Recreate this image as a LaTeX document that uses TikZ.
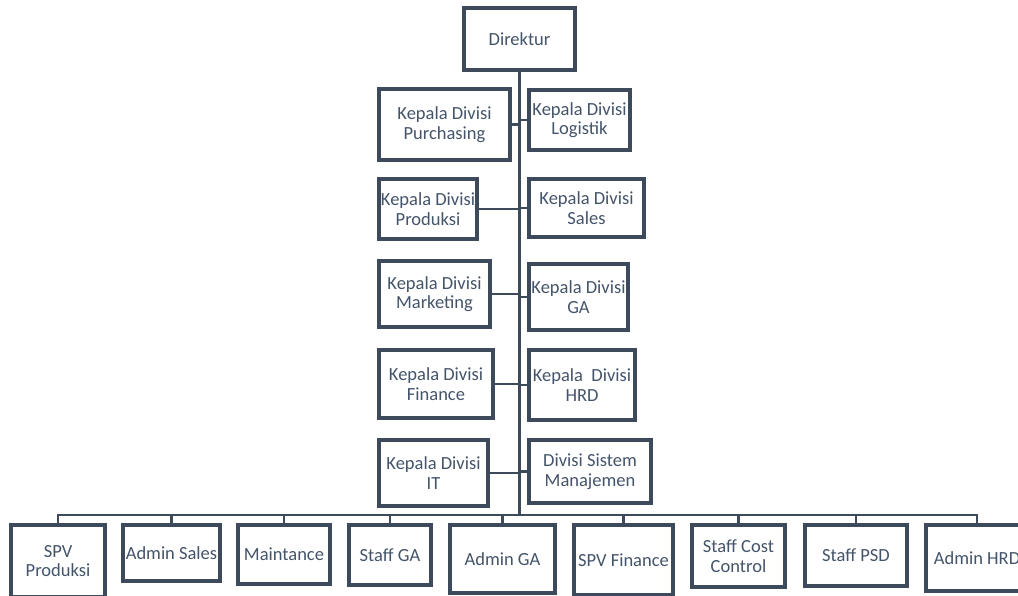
\documentclass[tikz,border=0pt]{standalone}
\usepackage{fontspec}
\setmainfont{Carlito}
\definecolor{linec}{HTML}{3D4A5C}
\definecolor{textc}{HTML}{44546A}
\tikzset{
  box/.style={draw=linec, line width=3.6pt, fill=white, text=textc, align=center,
    inner sep=0pt, font=\fontsize{18.5}{19.5}\selectfont},
  conn/.style={draw=linec, line width=2.6pt},
}
\begin{document}
\begin{tikzpicture}[x=1pt,y=-1pt]
\useasboundingbox[fill=white] (0,0) rectangle (1018,595);
% connectors first
\coordinate (j) at (519.5,515);
% boxes
\newcommand{\bx}[6]{\node[box, minimum width=#4pt-3.6pt, minimum height=#5pt-3.6pt] (#1) at (#2,#3) {#6};}
\bx{dir}{519.5}{39}{115}{66}{Direktur}
\bx{pur}{444.5}{124.5}{135}{75}{Kepala Divisi\\Purchasing}
\bx{log}{579.5}{120}{105}{64}{Kepala Divisi\\Logistik}
\bx{prod}{428}{209}{102}{64}{Kepala Divisi\\Produksi}
\bx{sales}{586.5}{208}{119}{62}{Kepala Divisi\\Sales}
\bx{mkt}{434.5}{294}{115}{70}{Kepala Divisi\\Marketing}
\bx{ga}{578.5}{297}{103}{70}{Kepala Divisi\\GA}
\bx{fin}{436}{384}{118}{72}{Kepala Divisi\\Finance}
\bx{hrd}{582}{385}{110}{74}{Kepala~ Divisi\\HRD}
\bx{it}{433.5}{473}{113}{70}{Kepala Divisi\\IT}
\bx{sm}{590}{471.5}{126}{67}{Divisi Sistem\\Manajemen}
\bx{spvp}{58}{561}{98}{76}{SPV\\Produksi}
\bx{adms}{171.5}{553}{101}{60}{Admin Sales}
\bx{maint}{284}{554.5}{96}{63}{Maintance}
\bx{sga}{390}{555}{86}{64}{Staff GA}
\bx{adga}{502.5}{559}{109}{72}{Admin GA}
\bx{spvf}{623.5}{560}{103}{74}{SPV Finance}
\bx{scc}{738.5}{556}{97}{66}{Staff Cost\\Control}
\bx{spsd}{856}{555.5}{106}{65}{Staff PSD}
\bx{adhrd}{977}{558}{106}{70}{Admin HRD}
% connectors
\begin{scope}[on background layer/.try]
\end{scope}
\draw[conn] (dir.south) -- (j);
\foreach \n in {pur,prod,mkt,fin,it}{\draw[conn] (\n.east) -- (\n.east -| dir.south);}
\foreach \n in {log,sales,ga,hrd,sm}{\draw[conn] (\n.west) -- (\n.west -| dir.south);}
\foreach \n in {spvp,adms,maint,sga,adga,spvf,scc,spsd,adhrd}{\draw[conn] (\n.north) |- (j);}
\end{tikzpicture}
\end{document}
